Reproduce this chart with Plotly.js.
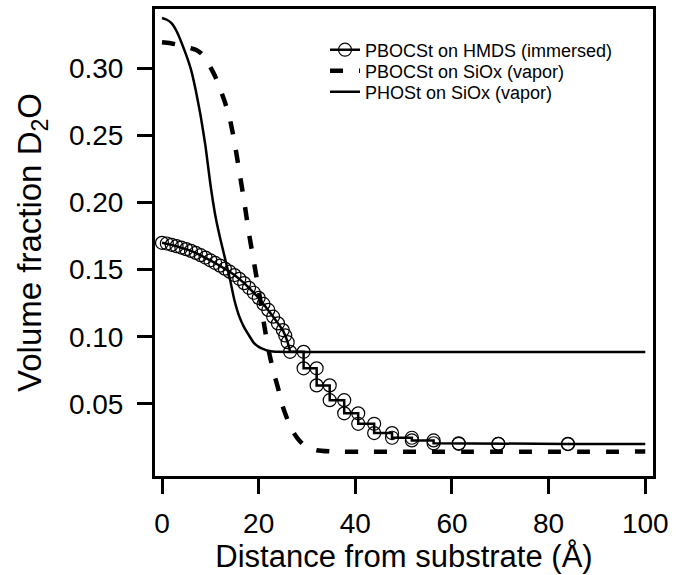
<!DOCTYPE html>
<html>
<head>
<meta charset="utf-8">
<script src="https://cdn.plot.ly/plotly-3.0.1.min.js"></script>
<style>html,body{margin:0;padding:0;background:#fff;}</style>
</head>
<body>
<div id="chart" style="width:676px;height:575px;"></div>
<script>
// PHOSt on SiOx (vapor) - solid line
const phostX = [0, 1, 2, 3, 4, 5, 6, 7, 8, 9, 10, 11, 12, 13, 14, 15, 16, 17, 18, 19, 20, 21, 22, 23, 24, 26, 30, 100];
const phostY = [0.3375, 0.3362, 0.3335, 0.3278, 0.3195, 0.3100, 0.2990, 0.2833, 0.2645, 0.2420, 0.2140, 0.1910, 0.1740, 0.1590, 0.1440, 0.1270, 0.1150, 0.1070, 0.1010, 0.0955, 0.0925, 0.0908, 0.0896, 0.0890, 0.0888, 0.0887, 0.0886, 0.0886];

// PBOCSt on SiOx (vapor) - dashed line
const sioxX = [0, 1, 2, 3, 4, 5, 6, 7, 8, 9, 10, 11, 12, 13, 14, 15, 16, 17, 18, 19, 20, 21, 22, 23, 24, 25, 26, 27, 28, 29, 30, 32, 35, 100];
const sioxY = [0.3194, 0.3190, 0.3185, 0.3178, 0.3170, 0.3162, 0.3150, 0.3138, 0.3115, 0.3080, 0.3010, 0.2940, 0.2850, 0.2750, 0.2630, 0.2450, 0.2230, 0.2010, 0.1770, 0.1560, 0.1350, 0.1120, 0.0910, 0.0750, 0.0620, 0.0480, 0.0380, 0.0300, 0.0245, 0.0205, 0.0178, 0.0155, 0.0146, 0.0145];

// PBOCSt on HMDS (immersed) - smooth part with circles
const hmdsX = [0, 1, 2, 3, 4, 5, 6, 7, 8, 9, 10, 11, 12, 13, 14, 15, 16, 17, 18, 19, 20, 21, 22, 23, 24, 25, 25.5, 26, 26.5];
const hmdsY = [0.1700, 0.1695, 0.1685, 0.1675, 0.1665, 0.1653, 0.1640, 0.1625, 0.1608, 0.1590, 0.1570, 0.1550, 0.1530, 0.1508, 0.1485, 0.1460, 0.1432, 0.1400, 0.1365, 0.1328, 0.1290, 0.1245, 0.1200, 0.1150, 0.1100, 0.1050, 0.1010, 0.0960, 0.0888];
// PBOCSt on HMDS (immersed) - stepped part: step edges and the level after each edge
const stepEdges = [29.3, 32.0, 34.7, 37.7, 40.6, 43.9, 47.6, 51.7, 56.2, 61.4, 69.6, 84.0];
const stepLevels = [0.0765, 0.0638, 0.0528, 0.0430, 0.0352, 0.0283, 0.0248, 0.0228, 0.0207, 0.0203, 0.0202, 0.0201];
const tailEndX = 100;

const xTicks = [0, 20, 40, 60, 80, 100];
const yTicks = [0.05, 0.10, 0.15, 0.20, 0.25, 0.30];
const yTickText = ['0.05', '0.10', '0.15', '0.20', '0.25', '0.30'];

// build HMDS point list (a circle at both corners of every step)
const hx = hmdsX.slice();
const hy = hmdsY.slice();
let prev = hmdsY[hmdsY.length - 1];
for (let i = 0; i < stepEdges.length; i++) {
  hx.push(stepEdges[i]); hy.push(prev);
  hx.push(stepEdges[i]); hy.push(stepLevels[i]);
  prev = stepLevels[i];
}
const lastLevel = stepLevels[stepLevels.length - 1];
const lastEdge = stepEdges[stepEdges.length - 1];

const FONT = 'Liberation Sans, Arial, Helvetica, sans-serif';

const traces = [
  {
    x: hx, y: hy, mode: 'lines+markers', name: 'PBOCSt on HMDS (immersed)', legend: 'legend',
    line: {color: '#000', width: 2.5},
    marker: {symbol: 'circle-open', size: 13, color: '#000', line: {width: 1.2, color: '#000'}}
  },
  {
    x: [lastEdge, tailEndX], y: [lastLevel, lastLevel], mode: 'lines', showlegend: false,
    line: {color: '#000', width: 2.5}, hoverinfo: 'skip'
  },
  {
    x: sioxX, y: sioxY, mode: 'lines', name: 'PBOCSt on SiOx (vapor)', legend: 'legend2',
    line: {color: '#000', width: 4.5, dash: '13px,16px', shape: 'spline', smoothing: 0.5}
  },
  {
    x: phostX, y: phostY, mode: 'lines', name: 'PHOSt on SiOx (vapor)', legend: 'legend3',
    line: {color: '#000', width: 2.5, shape: 'spline', smoothing: 0.5}
  }
];

const legendBase = {
  x: 0.3414, xanchor: 'left', yanchor: 'top',
  font: {family: FONT, size: 18, color: '#000'},
  bgcolor: 'rgba(0,0,0,0)', borderwidth: 0
};

const layout = {
  width: 676, height: 575,
  margin: {l: 155, r: 23, t: 9, b: 99},
  paper_bgcolor: '#fff', plot_bgcolor: '#fff',
  font: {family: FONT, color: '#000'},
  showlegend: true,
  legend: Object.assign({}, legendBase, {y: 0.9518}),
  legend2: Object.assign({}, legendBase, {y: 0.9069}),
  legend3: Object.assign({}, legendBase, {y: 0.8619}),
  xaxis: {
    range: [-1.45, 101.6], tickvals: xTicks, ticktext: xTicks.map(String),
    ticks: 'outside', ticklen: 15, tickwidth: 3, tickcolor: '#000',
    showline: true, linewidth: 3, linecolor: '#000', mirror: true,
    showgrid: false, zeroline: false,
    tickfont: {family: FONT, size: 28, color: '#000'},
    ticklabelstandoff: 5,
    title: {text: 'Distance from substrate (Å)', font: {family: FONT, size: 31, color: '#000'}, standoff: 4}
  },
  yaxis: {
    range: [-0.0037, 0.3442], tickvals: yTicks, ticktext: yTickText,
    ticks: 'outside', ticklen: 15, tickwidth: 3, tickcolor: '#000',
    showline: true, linewidth: 3, linecolor: '#000', mirror: true,
    showgrid: false, zeroline: false,
    tickfont: {family: FONT, size: 28, color: '#000'},
    ticklabelstandoff: 8,
    title: {text: 'Volume fraction D<sub>2</sub>O', font: {family: FONT, size: 33, color: '#000'}, standoff: 18}
  }
};

Plotly.newPlot('chart', traces, layout, {displayModeBar: false, staticPlot: true});
</script>
</body>
</html>
